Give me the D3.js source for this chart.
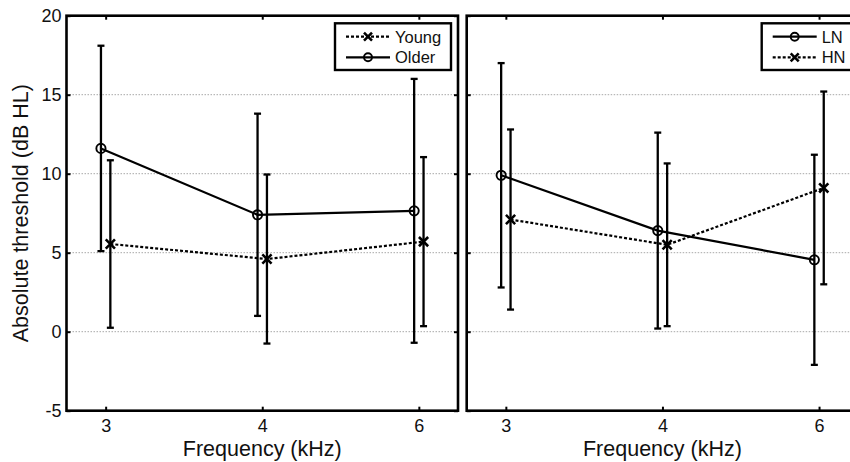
<!DOCTYPE html>
<html>
<head>
<meta charset="utf-8">
<script src="https://cdn.jsdelivr.net/npm/d3@7"></script>
<style>
  html, body { margin: 0; padding: 0; background: #fff; }
  svg { display: block; font-family: "Liberation Sans", Arial, sans-serif; }
</style>
</head>
<body>
<svg id="chart" width="850" height="462"></svg>
<script>
// ---- Data ----
const frequencies = ["3", "4", "6"];
const yTicks = [-5, 0, 5, 10, 15, 20];
const gridValues = [0, 5, 10, 15];

// Left panel
const youngMean = [5.55, 4.6, 5.7];
const youngErr  = [5.3, 5.35, 5.35];
const olderMean = [11.6, 7.4, 7.65];
const olderErr  = [6.5, 6.4, 8.35];

// Right panel
const lnMean = [9.9, 6.4, 4.55];
const lnErr  = [7.1, 6.2, 6.65];
const hnMean = [7.1, 5.5, 9.1];
const hnErr  = [5.7, 5.15, 6.1];

const svg = d3.select("#chart");

const yTop = 15.7, yBottom = 410.7, panelW = 391.5;
const panels = [
  { x0: 66.5, showYLabels: true,
    series: [
      { name: "Older", mean: olderMean, err: olderErr, marker: "circle", dash: null, off: -0.03 },
      { name: "Young", mean: youngMean, err: youngErr, marker: "x", dash: "3,2", off: 0.03 }
    ],
    legend: [ { name: "Young", marker: "x", dash: "3,2" }, { name: "Older", marker: "circle", dash: null } ],
    legendBox: { x: 335, y: 23.3, w: 116, h: 46.7 }
  },
  { x0: 466.7, showYLabels: false,
    series: [
      { name: "LN", mean: lnMean, err: lnErr, marker: "circle", dash: null, off: -0.03 },
      { name: "HN", mean: hnMean, err: hnErr, marker: "x", dash: "3,2", off: 0.03 }
    ],
    legend: [ { name: "LN", marker: "circle", dash: null }, { name: "HN", marker: "x", dash: "3,2" } ],
    legendBox: { x: 761.7, y: 23.3, w: 96, h: 46.7 }
  }
];

const y = d3.scaleLinear().domain([-5, 20]).range([yBottom, yTop]);

function drawMarker(g, type, cx, cy, r) {
  if (type === "circle") {
    g.append("circle").attr("cx", cx).attr("cy", cy).attr("r", r)
      .attr("fill", "none").attr("stroke", "#000").attr("stroke-width", 1.9);
  } else {
    const s = r;
    g.append("path")
      .attr("d", `M${cx - s},${cy - s}L${cx + s},${cy + s}M${cx - s},${cy + s}L${cx + s},${cy - s}`)
      .attr("stroke", "#000").attr("stroke-width", 2.6).attr("fill", "none");
  }
}

panels.forEach(p => {
  const x = d3.scaleLinear().domain([-0.25, 2.25]).range([p.x0, p.x0 + panelW]);
  const g = svg.append("g");

  // gridlines
  g.selectAll("line.grid").data(gridValues).enter().append("line")
    .attr("x1", p.x0).attr("x2", p.x0 + panelW)
    .attr("y1", d => y(d)).attr("y2", d => y(d))
    .attr("stroke", "#a8a8a8").attr("stroke-width", 1).attr("stroke-dasharray", "1.5,1.5");

  // axes via d3 axes (inward ticks)
  const tickVals = frequencies.map((d, i) => i);
  g.append("g").attr("transform", `translate(0,${yBottom})`)
    .call(d3.axisBottom(x).tickValues(tickVals).tickSizeInner(-4).tickSizeOuter(0)
      .tickFormat(i => frequencies[i]).tickPadding(9))
    .call(a => a.select(".domain").remove())
    .call(a => a.selectAll(".tick line").attr("stroke-width", 2))
    .call(a => a.selectAll(".tick text").attr("font-size", 18).attr("fill", "#111")
      .attr("font-family", "Liberation Sans, Arial, sans-serif"));
  g.append("g").attr("transform", `translate(0,${yTop})`)
    .call(d3.axisTop(x).tickValues(tickVals).tickSizeInner(-4).tickSizeOuter(0).tickFormat(""))
    .call(a => a.select(".domain").remove())
    .call(a => a.selectAll(".tick line").attr("stroke-width", 2));
  g.append("g").attr("transform", `translate(${p.x0},0)`)
    .call(d3.axisLeft(y).tickValues(yTicks).tickSizeInner(-4).tickSizeOuter(0)
      .tickFormat(p.showYLabels ? (d => String(d)) : "").tickPadding(5))
    .call(a => a.select(".domain").remove())
    .call(a => a.selectAll(".tick line").attr("stroke-width", 2))
    .call(a => a.selectAll(".tick text").attr("font-size", 18).attr("fill", "#111")
      .attr("font-family", "Liberation Sans, Arial, sans-serif"));
  g.append("g").attr("transform", `translate(${p.x0 + panelW},0)`)
    .call(d3.axisRight(y).tickValues(yTicks).tickSizeInner(-4).tickSizeOuter(0).tickFormat(""))
    .call(a => a.select(".domain").remove())
    .call(a => a.selectAll(".tick line").attr("stroke-width", 2));

  // series
  p.series.forEach(s => {
    const sg = g.append("g");
    const px = i => x(i + s.off);
    s.mean.forEach((m, i) => {
      const cx = px(i), y1 = y(m + s.err[i]), y2 = y(m - s.err[i]);
      sg.append("line").attr("x1", cx).attr("x2", cx).attr("y1", y1).attr("y2", y2)
        .attr("stroke", "#000").attr("stroke-width", 2.3);
      [y1, y2].forEach(yy => sg.append("line").attr("x1", cx - 3.5).attr("x2", cx + 3.5)
        .attr("y1", yy).attr("y2", yy).attr("stroke", "#000").attr("stroke-width", 2.3));
    });
    const line = d3.line().x((d, i) => px(i)).y(d => y(d));
    sg.append("path").attr("d", line(s.mean)).attr("fill", "none")
      .attr("stroke", "#000").attr("stroke-width", 2.2)
      .attr("stroke-dasharray", s.dash);
    s.mean.forEach((m, i) => drawMarker(sg, s.marker, px(i), y(m), 4.6));
  });

  // frame
  g.append("rect").attr("x", p.x0).attr("y", yTop).attr("width", panelW).attr("height", yBottom - yTop)
    .attr("fill", "none").attr("stroke", "#000").attr("stroke-width", 2.6);

  // x label
  g.append("text").attr("x", x(1)).attr("y", 456)
    .attr("text-anchor", "middle").attr("font-size", 21.5).attr("fill", "#111")
    .text("Frequency (kHz)");

  // legend
  const lb = p.legendBox;
  const lg = g.append("g");
  lg.append("rect").attr("x", lb.x).attr("y", lb.y).attr("width", lb.w).attr("height", lb.h)
    .attr("fill", "#fff").attr("stroke", "#000").attr("stroke-width", 2.4);
  p.legend.forEach((e, i) => {
    const ly = lb.y + 13.4 + i * 20.6;
    const lx1 = lb.x + 11, lx2 = lb.x + 55;
    lg.append("line").attr("x1", lx1).attr("x2", lx2).attr("y1", ly).attr("y2", ly)
      .attr("stroke", "#000").attr("stroke-width", 2.2).attr("stroke-dasharray", e.dash);
    drawMarker(lg, e.marker, (lx1 + lx2) / 2, ly, 4);
    lg.append("text").attr("x", lx2 + 5).attr("y", ly).attr("dy", "0.36em")
      .attr("font-size", 16.5).attr("fill", "#111").text(e.name);
  });
});

// y label
svg.append("text")
  .attr("transform", `translate(28,${(yTop + yBottom) / 2}) rotate(-90)`)
  .attr("text-anchor", "middle").attr("font-size", 21.5).attr("fill", "#111")
  .text("Absolute threshold (dB HL)");
</script>
</body>
</html>
